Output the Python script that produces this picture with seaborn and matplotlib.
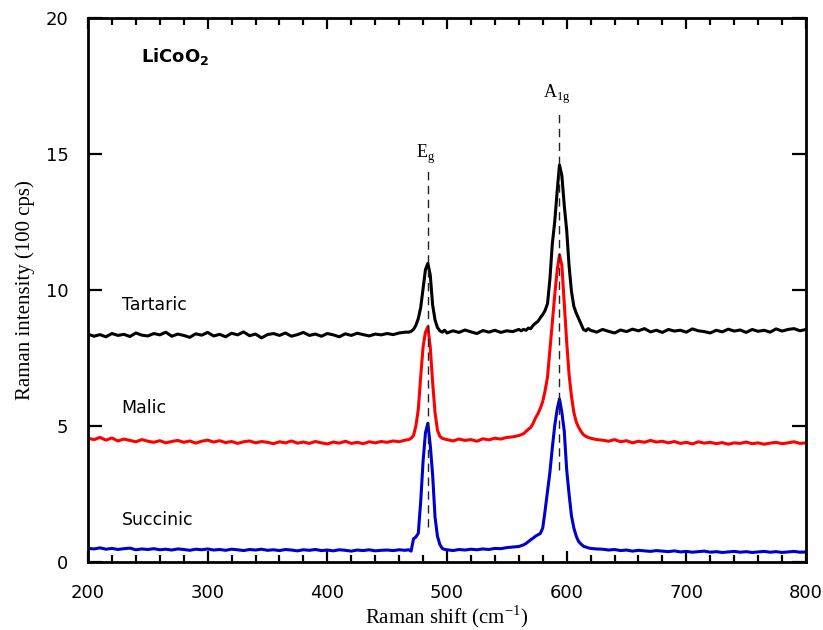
import numpy as np
import pandas as pd
import matplotlib
matplotlib.use("Agg")
import matplotlib.pyplot as plt
from matplotlib.ticker import MultipleLocator
import seaborn as sns

# Raman shift sampling (cm-1): coarser on the baseline, finer across the two bands
shift = np.concatenate([
    np.arange(200, 466, 5),   # 200-465
    np.arange(468, 500, 2),   # 468-498  (Eg band)
    np.arange(500, 561, 5),   # 500-560
    np.arange(562, 620, 2),   # 562-618  (A1g band)
    np.arange(620, 801, 5),   # 620-800
])

tartaric = [
    # 200-465
    8.38, 8.30, 8.36, 8.28, 8.40, 8.33, 8.37, 8.29, 8.42, 8.34,
    8.31, 8.40, 8.35, 8.45, 8.30, 8.38, 8.33, 8.26, 8.39, 8.34,
    8.44, 8.31, 8.37, 8.28, 8.41, 8.35, 8.46, 8.32, 8.38, 8.24,
    8.36, 8.40, 8.33, 8.42, 8.30, 8.36, 8.44, 8.33, 8.38, 8.30,
    8.40, 8.35, 8.28, 8.39, 8.33, 8.41, 8.36, 8.31, 8.38, 8.35,
    8.40, 8.36, 8.42, 8.45,
    # 468-498
    8.45, 8.48, 8.55, 8.70, 8.95, 9.35, 10.05, 10.75, 10.98, 10.55,
    9.45, 8.90, 8.62, 8.50, 8.45, 8.52,
    # 500-560
    8.42, 8.50, 8.44, 8.53, 8.46, 8.40, 8.51, 8.45, 8.52, 8.44,
    8.50, 8.47, 8.55,
    # 562-618
    8.50, 8.55, 8.52, 8.60, 8.58, 8.70, 8.78, 8.85, 8.98, 9.10,
    9.25, 9.50, 10.40, 11.70, 12.50, 13.60, 14.60, 14.20, 13.10, 12.20,
    10.90, 9.95, 9.40, 9.15, 8.95, 8.75, 8.55, 8.50, 8.58,
    # 620-800
    8.52, 8.45, 8.55, 8.48, 8.42, 8.53, 8.47, 8.56, 8.50, 8.58,
    8.46, 8.52, 8.44, 8.55, 8.49, 8.52, 8.45, 8.57, 8.50, 8.47,
    8.42, 8.52, 8.46, 8.56, 8.49, 8.53, 8.44, 8.55, 8.48, 8.52,
    8.45, 8.57, 8.49, 8.55, 8.58, 8.50, 8.55,
]

malic = [
    # 200-465
    4.55, 4.50, 4.58, 4.48, 4.56, 4.45, 4.52, 4.47, 4.42, 4.50,
    4.44, 4.40, 4.46, 4.38, 4.43, 4.47, 4.40, 4.45, 4.37, 4.44,
    4.48, 4.41, 4.46, 4.39, 4.43, 4.36, 4.42, 4.45, 4.38, 4.43,
    4.40, 4.35, 4.42, 4.38, 4.45, 4.37, 4.41, 4.36, 4.43, 4.38,
    4.34, 4.41, 4.37, 4.44, 4.36, 4.40, 4.35, 4.42, 4.38, 4.43,
    4.40, 4.45, 4.42, 4.48,
    # 468-498
    4.50, 4.55, 4.65, 5.00, 5.60, 6.80, 7.90, 8.45, 8.65, 7.90,
    6.60, 5.50, 4.85, 4.62, 4.55, 4.52,
    # 500-560
    4.50, 4.45, 4.52, 4.47, 4.50, 4.44, 4.53, 4.49, 4.55, 4.52,
    4.58, 4.60, 4.65,
    # 562-618
    4.68, 4.72, 4.80, 4.88, 4.95, 5.10, 5.30, 5.45, 5.65, 5.90,
    6.30, 6.80, 7.80, 8.80, 9.80, 10.70, 11.30, 10.90, 9.50, 8.10,
    6.90, 6.10, 5.50, 5.15, 4.95, 4.80, 4.68, 4.62, 4.58,
    # 620-800
    4.55, 4.50, 4.48, 4.44, 4.50, 4.42, 4.46, 4.38, 4.44, 4.40,
    4.47, 4.41, 4.44, 4.38, 4.43, 4.36, 4.40, 4.34, 4.42, 4.37,
    4.40, 4.35, 4.39, 4.33, 4.38, 4.36, 4.41, 4.35, 4.38, 4.33,
    4.37, 4.40, 4.35, 4.38, 4.42, 4.36, 4.38,
]

succinic = [
    # 200-465
    0.50, 0.48, 0.52, 0.47, 0.50, 0.46, 0.49, 0.51, 0.45, 0.48,
    0.46, 0.49, 0.45, 0.47, 0.44, 0.48, 0.46, 0.43, 0.47, 0.45,
    0.48, 0.44, 0.46, 0.43, 0.47, 0.45, 0.42, 0.46, 0.44, 0.47,
    0.43, 0.45, 0.42, 0.46, 0.44, 0.41, 0.45, 0.43, 0.46, 0.42,
    0.44, 0.41, 0.45, 0.43, 0.40, 0.44, 0.42, 0.45, 0.41, 0.43,
    0.44, 0.42, 0.45, 0.43,
    # 468-498
    0.45, 0.40, 0.85, 0.92, 1.05, 2.20, 3.70, 4.75, 5.10, 4.30,
    3.20, 1.65, 0.95, 0.65, 0.50, 0.46,
    # 500-560
    0.45, 0.42, 0.46, 0.44, 0.47, 0.45, 0.48, 0.46, 0.50, 0.49,
    0.53, 0.55, 0.57,
    # 562-618
    0.60, 0.63, 0.68, 0.75, 0.82, 0.88, 0.95, 1.00, 1.05, 1.25,
    1.90, 2.60, 3.30, 4.20, 5.00, 5.60, 6.00, 5.50, 4.80, 3.40,
    2.50, 1.70, 1.25, 0.95, 0.75, 0.66, 0.58, 0.55, 0.52,
    # 620-800
    0.50, 0.48, 0.47, 0.44, 0.46, 0.42, 0.44, 0.40, 0.43, 0.41,
    0.39, 0.42, 0.40, 0.38, 0.41, 0.37, 0.39, 0.36, 0.38, 0.40,
    0.36, 0.38, 0.35, 0.37, 0.39, 0.36, 0.38, 0.35, 0.37, 0.39,
    0.36, 0.38, 0.35, 0.37, 0.39, 0.36, 0.37,
]

sample_names = ["Tartaric", "Malic", "Succinic"]
sample_colors = ["#000000", "#ff0000", "#0000cc"]
sample_label_heights = [9.45, 5.66, 1.54]
band_names = ["E$_\\mathrm{g}$", "A$_\\mathrm{1g}$"]
band_positions = [484, 594]
band_label_heights = [14.55, 16.75]
band_line_spans = [(1.3, 14.4), (3.4, 16.5)]

df = pd.concat([
    pd.DataFrame({"shift": shift, "intensity": vals, "sample": name})
    for name, vals in zip(sample_names, [tartaric, malic, succinic])
], ignore_index=True)

sns.set_style("white")
plt.rcParams["font.family"] = ["DejaVu Sans"]
plt.rcParams["text.color"] = "black"
plt.rcParams["axes.labelcolor"] = "black"
plt.rcParams["xtick.color"] = "black"
plt.rcParams["ytick.color"] = "black"
plt.rcParams["mathtext.fontset"] = "custom"
plt.rcParams["mathtext.rm"] = "Liberation Serif"
plt.rcParams["mathtext.bf"] = "DejaVu Sans:bold"

fig = plt.figure(figsize=(8.23, 6.30), dpi=100)
ax = fig.add_axes([88 / 823, 1 - 562 / 630, (806 - 88) / 823, (562 - 18) / 630])

sns.lineplot(data=df, x="shift", y="intensity", hue="sample",
             hue_order=sample_names, palette=dict(zip(sample_names, sample_colors)),
             sort=False, estimator=None, linewidth=2.2, legend=False, ax=ax)

# band markers
for name, pos, hy, (y0, y1) in zip(band_names, band_positions,
                                     band_label_heights, band_line_spans):
    ax.plot([pos, pos], [y0, y1], color="#222222", lw=1.0,
            linestyle=(0, (6, 4)), zorder=5)
    ax.text(pos - 2, hy, name, ha="center", va="bottom", fontsize=13,
            family="Liberation Serif", color="black")

# sample labels
for name, y in zip(sample_names, sample_label_heights):
    ax.text(228, y, name, ha="left", va="center", fontsize=12.5, color="black")

ax.text(244, 18.6, "LiCoO$_\\mathbf{2}$", ha="left", va="center",
        fontsize=13, fontweight="bold", color="black")

ax.set_xlim(200, 800)
ax.set_ylim(0, 20)
ax.xaxis.set_major_locator(MultipleLocator(100))
ax.xaxis.set_minor_locator(MultipleLocator(20))
ax.yaxis.set_major_locator(MultipleLocator(5))
ax.tick_params(axis="both", which="both", direction="in", bottom=True,
               left=True, top=True, right=True, width=1.6, labelsize=13,
               colors="black")
ax.tick_params(axis="x", which="major", length=8, pad=16)
ax.tick_params(axis="x", which="minor", length=5)
ax.tick_params(axis="y", which="major", length=10, pad=14)
for sp in ax.spines.values():
    sp.set_linewidth(2.0)
    sp.set_color("black")

ax.set_xlabel("Raman shift (cm$^{\\mathrm{-1}}$)", family="Liberation Serif",
              fontsize=15, labelpad=1)
ax.set_ylabel("Raman intensity (100 cps)", family="Liberation Serif",
              fontsize=15, labelpad=8)

fig.savefig("out.png", dpi=100)
